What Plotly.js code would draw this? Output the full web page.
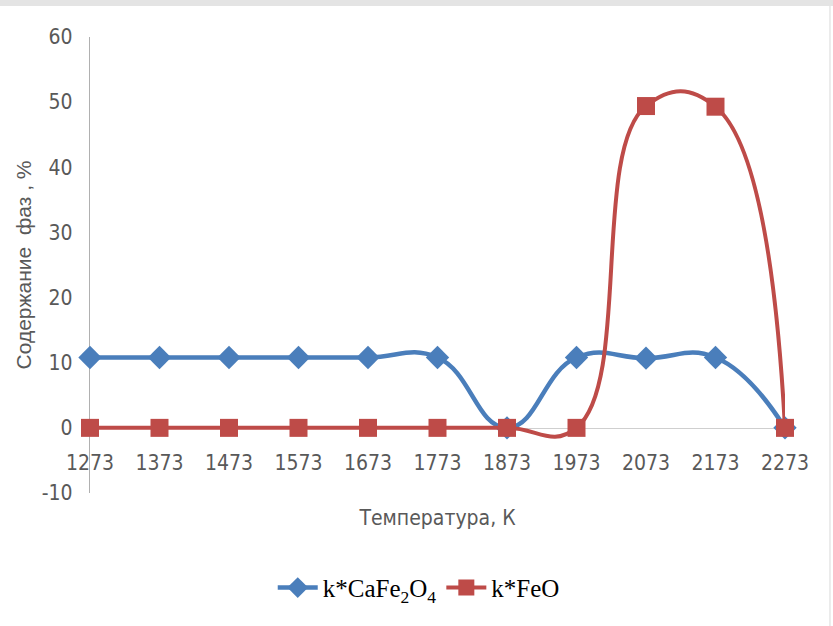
<!DOCTYPE html>
<html>
<head>
<meta charset="utf-8">
<script src="https://cdn.plot.ly/plotly-3.0.1.min.js"></script>
<style>html,body{margin:0;padding:0;background:#fff;}#chart{width:833px;height:626px;}</style>
</head>
<body>
<div id="chart"></div>
<script>
const temperatures = [1273, 1373, 1473, 1573, 1673, 1773, 1873, 1973, 2073, 2173, 2273];
const tickLabels = ["1273","1373","1473","1573","1673","1773","1873","1973","2073","2173","2273"];
const caFe2O4 = [10.8, 10.8, 10.8, 10.8, 10.8, 10.8, 0, 10.8, 10.7, 10.8, 0];
const feO = [0, 0, 0, 0, 0, 0, 0, 0, 49.4, 49.3, 0];
const yTicks = [-10, 0, 10, 20, 30, 40, 50, 60];
const yTickLabels = ["-10", "0", "10", "20", "30", "40", "50", "60"];

const narrow = '"Liberation Sans Narrow", "DejaVu Sans Condensed", "Liberation Sans", sans-serif';

const traces = [
  {
    x: temperatures, y: caFe2O4, name: 'k*CaFe<sub>2</sub>O<sub>4</sub>',
    type: 'scatter', mode: 'lines+markers', cliponaxis: false,
    line: {color: '#4A7EBB', width: 4.5, shape: 'spline', smoothing: 1.3},
    marker: {symbol: 'diamond', size: 18, color: '#4A7EBB'}
  },
  {
    x: temperatures, y: feO, name: 'k*FeO',
    type: 'scatter', mode: 'lines+markers', cliponaxis: false,
    line: {color: '#BE4B48', width: 4, shape: 'spline', smoothing: 1.3},
    marker: {symbol: 'square', size: 18, color: '#BE4B48'}
  }
];

const layout = {
  width: 833, height: 626,
  margin: {l: 90, r: 48, t: 37, b: 133},
  paper_bgcolor: '#ffffff', plot_bgcolor: '#ffffff',
  showlegend: true,
  legend: {
    orientation: 'h', x: 0.473, xanchor: 'center', y: -0.208, yanchor: 'middle',
    font: {family: '"Liberation Serif", "Times New Roman", serif', size: 25, color: '#000'},
    itemwidth: 40
  },
  xaxis: {
    range: [1273, 2273],
    tickvals: temperatures, ticktext: tickLabels,
    anchor: 'free', position: 1/7,
    showgrid: false, zeroline: false,
    showline: true, linecolor: '#cfcfcf', linewidth: 1.3, layer: 'below traces',
    ticks: '', ticklabelstandoff: 16,
    tickfont: {family: narrow, size: 21, color: '#595959'},
    title: {text: 'Температура, К', standoff: 36,
      font: {family: narrow, size: 21, color: '#595959'}}
  },
  yaxis: {
    range: [-10, 60],
    tickvals: yTicks, ticktext: yTickLabels,
    showgrid: false, zeroline: false,
    showline: true, linecolor: '#b0b0b0', linewidth: 1.3, layer: 'below traces',
    ticks: '', ticklabelstandoff: 12,
    tickfont: {family: narrow, size: 21, color: '#595959'},
    title: {text: 'Содержание  фаз , %', standoff: 4,
      font: {family: '"Liberation Sans", "Open Sans", sans-serif', size: 21, color: '#595959'}}
  },
  shapes: [
    {type: 'rect', xref: 'paper', yref: 'paper', x0: -0.2, x1: 1.2, y0: 1.068, y1: 1.1,
      fillcolor: '#e4e4e4', line: {width: 0}, layer: 'below'},
    {type: 'line', xref: 'paper', yref: 'paper', x0: 1.0647, x1: 1.0647, y0: -0.3, y1: 1.068,
      line: {color: '#e6e6e6', width: 1.5}, layer: 'below'}
  ]
};

Plotly.newPlot('chart', traces, layout, {displayModeBar: false, staticPlot: true});
</script>
</body>
</html>
